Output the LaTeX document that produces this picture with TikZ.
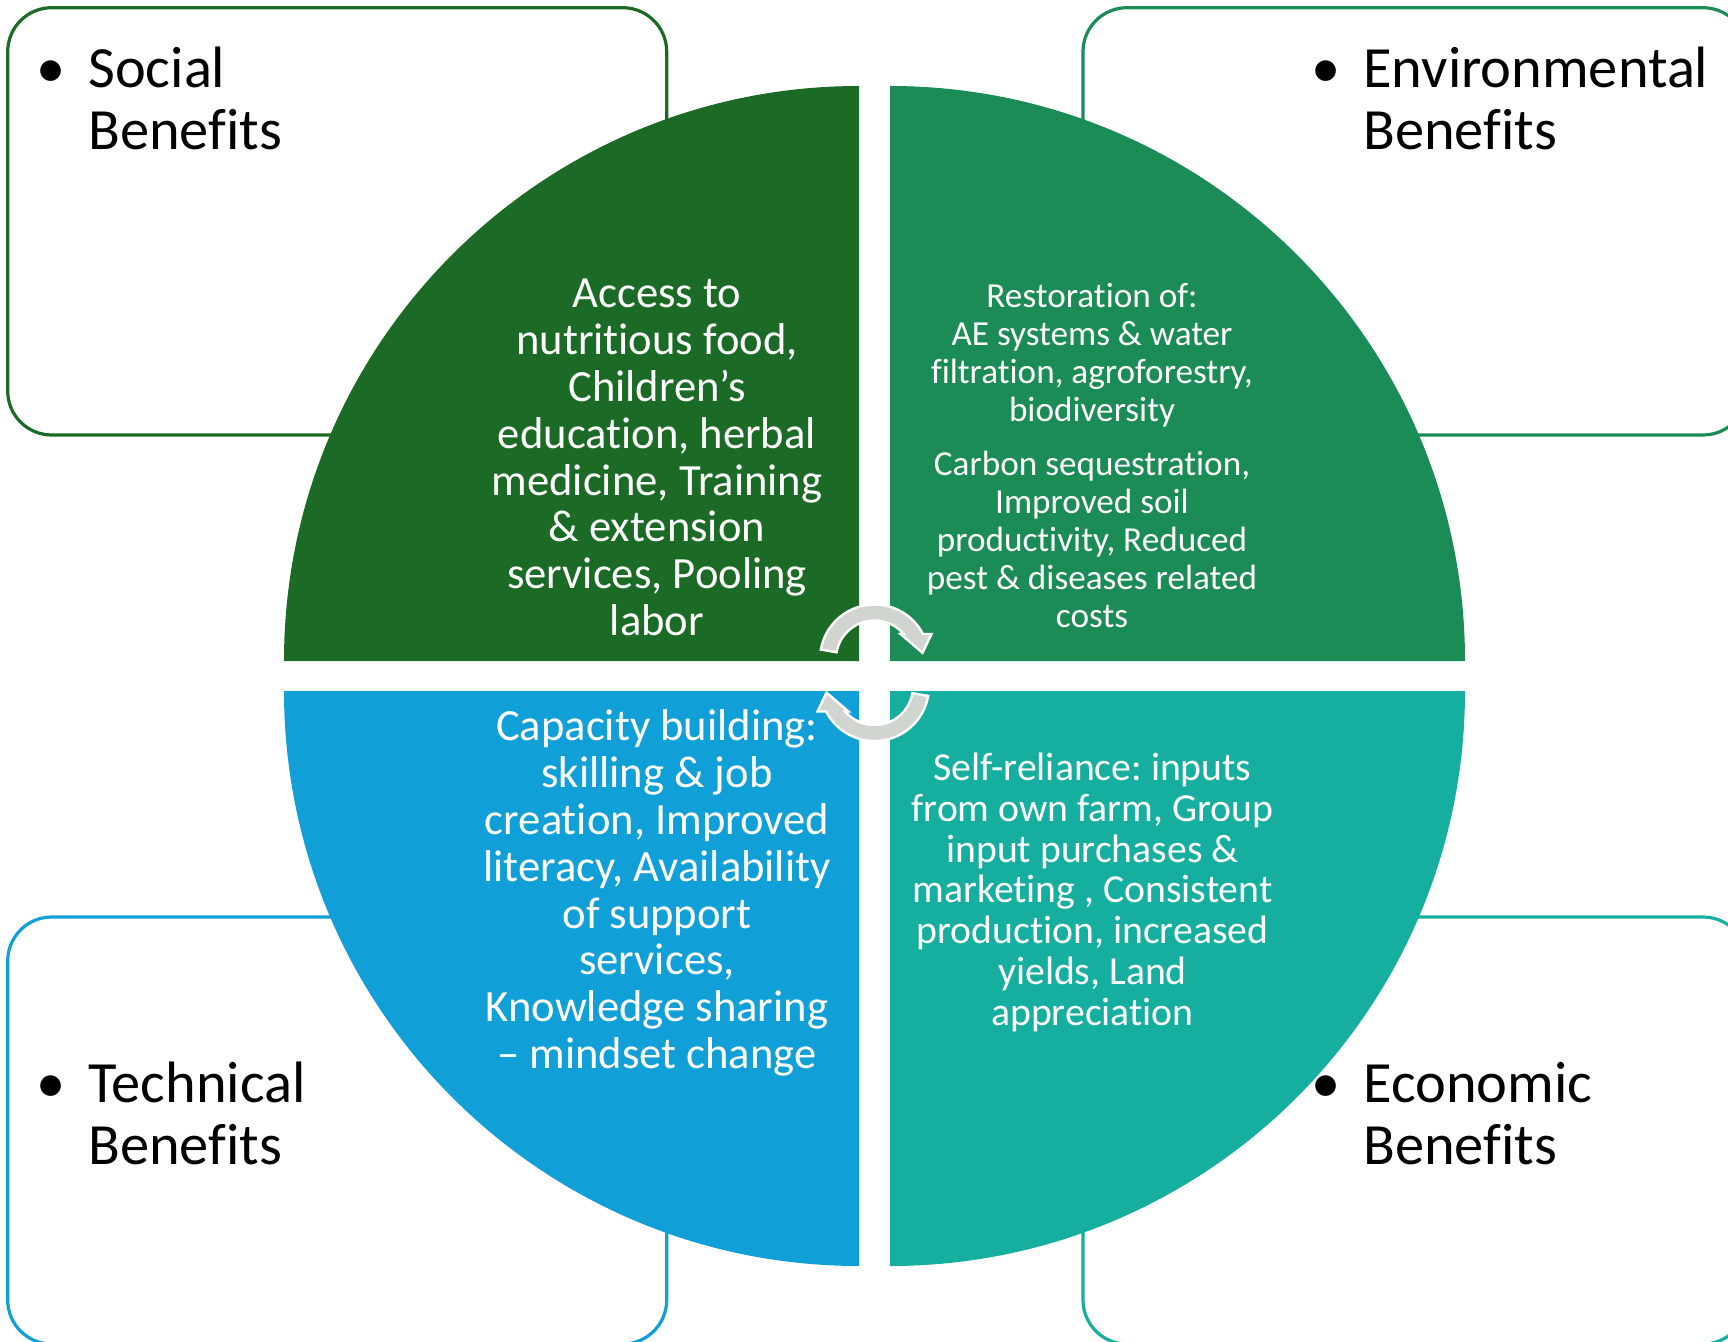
\documentclass[tikz,border=0pt]{standalone}
\usepackage{fontspec}
\setmainfont{Carlito}[Ligatures={NoCommon,NoContextual}]
\usetikzlibrary{calc}

\definecolor{socialgreen}{HTML}{1B6B26}
\definecolor{envgreen}{HTML}{1C8C56}
\definecolor{techblue}{HTML}{119FD7}
\definecolor{econteal}{HTML}{16AF9F}
\definecolor{cyclegray}{HTML}{D0D5CF}

% zero-width strut so a block's top edge sits 1em above its first baseline
\newcommand\firstlinestrut{\rule{0pt}{1em}}

\begin{document}
\frenchspacing
\begin{tikzpicture}[x=0.5pt,y=0.5pt,
  benefitbox/.style={line width=1.6pt, rounded corners=22pt, fill=white},
  boxlabel/.style={anchor=north west, inner sep=0pt, text=black,
    font=\fontsize{29.2}{31}\selectfont},
  quadtext/.style={anchor=north, inner sep=0pt, align=center, text=white},
  bigtext/.style={quadtext, font=\fontsize{22.3}{23.4}\selectfont},
  arrowstyle/.style={fill=cyclegray, draw=white, line width=1.2pt, line join=miter},
  cyclearrow/.pic={
    \path[arrowstyle] (170:54.5) arc[start angle=170, end angle=27.3, radius=54.5]
      -- (57,25) -- (48,6.2) -- (26,25) -- (40.5:38.5)
      arc[start angle=40.5, end angle=170, radius=38.5] -- cycle;
  }
]
\useasboundingbox (0,0) rectangle (1728,1341);
\clip (0,0) rectangle (1728,1341);

% outer benefit boxes
\draw[benefitbox, draw=socialgreen] (7.7,906) rectangle (666.7,1333.3);
\draw[benefitbox, draw=envgreen] (1083,906) rectangle (1747,1333.3);
\draw[benefitbox, draw=techblue] (7.7,-3) rectangle (666.7,424);
\draw[benefitbox, draw=econteal] (1083,-3) rectangle (1747,424);

% box headings
\node[boxlabel] (sociallabel) at (13.4,1297.4)
  {\begin{tabular}{@{}l@{}l@{}}\makebox[37.3pt]{\textbullet}&Social\\&Benefits\end{tabular}};
\node[boxlabel] (envlabel) at (1288.4,1297.4)
  {\begin{tabular}{@{}l@{}l@{}}\makebox[37.3pt]{\textbullet}&Environmental\\&Benefits\end{tabular}};
\node[boxlabel] (techlabel) at (13.4,282.4)
  {\begin{tabular}{@{}l@{}l@{}}\makebox[37.3pt]{\textbullet}&Technical\\&Benefits\end{tabular}};
\node[boxlabel] (econlabel) at (1288.4,282.4)
  {\begin{tabular}{@{}l@{}l@{}}\makebox[37.3pt]{\textbullet}&Economic\\&Benefits\end{tabular}};

% four quarter discs of the central circle
\fill[socialgreen] (859,680) -- ++(-575,0) arc[start angle=180, end angle=90, radius=575] -- cycle;
\fill[envgreen] (890,680) -- ++(0,575) arc[start angle=90, end angle=0, radius=575] -- cycle;
\fill[techblue] (859,650) -- ++(0,-575) arc[start angle=270, end angle=180, radius=575] -- cycle;
\fill[econteal] (890,650) -- ++(575,0) arc[start angle=0, end angle=-90, radius=575] -- cycle;

% quadrant texts
\node[bigtext] (socialtext) at (657,1078.1)
  {\firstlinestrut Access to\\nutritious food,\\Children’s\\education, herbal\\medicine, Training\\\& extension\\services, Pooling\\labor};
\node[quadtext, font=\fontsize{17.6}{19}\selectfont] (envtext) at (1092,1068.7)
  {\firstlinestrut Restoration of:\\AE systems \& water\\filtration, agroforestry,\\biodiversity\\[8pt]Carbon sequestration,\\Improved soil\\productivity, Reduced\\pest \& diseases related\\costs};
\node[bigtext] (techtext) at (657,645.1)
  {\firstlinestrut Capacity building:\\skilling \& job\\creation, Improved\\literacy, Availability\\of support\\services,\\Knowledge sharing\\– mindset change};
\node[quadtext, font=\fontsize{19.85}{20.4}\selectfont] (econtext) at (1092.5,600.7)
  {\firstlinestrut Self-reliance: inputs\\from own farm, Group\\input purchases \&\\marketing , Consistent\\production, increased\\yields, Land\\appreciation};

% circular arrows in the centre
\pic (arrowtop) at (874.5,682) {cyclearrow};
\pic[rotate=180] (arrowbottom) at (874.5,654.5) {cyclearrow};
\end{tikzpicture}
\end{document}
